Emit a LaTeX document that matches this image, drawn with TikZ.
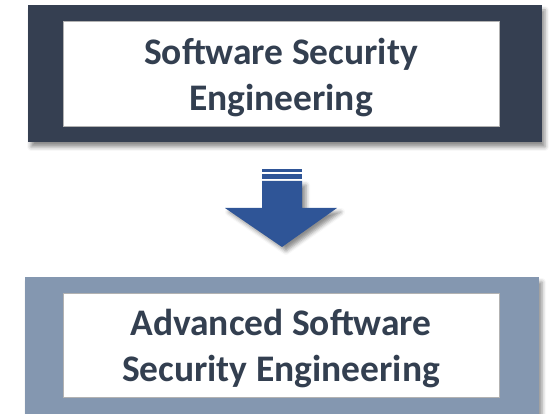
\documentclass[tikz,border=0pt]{standalone}
\usepackage{fontspec}
\setmainfont{Carlito}
\usetikzlibrary{shadows.blur}
\definecolor{framedark}{HTML}{353F51}
\definecolor{framelight}{HTML}{8497B0}
\definecolor{arrowblue}{HTML}{2F5597}
\definecolor{textdark}{HTML}{333F50}
\tikzset{
    frame/.style={minimum width=514pt, inner sep=0pt, draw=none,
        blur shadow={shadow xshift=3pt, shadow yshift=-5pt, shadow blur radius=4pt, shadow opacity=45}},
    label box/.style={fill=white, draw=gray!60, line width=0.4pt, minimum width=436pt,
        minimum height=105pt, inner sep=0pt, align=center, text=textdark,
        font=\fontsize{37.5}{46}\selectfont\bfseries}
}
\begin{document}
\begin{tikzpicture}[x=1pt, y=-1pt]
    \useasboundingbox (0,0) rectangle (550,414);
    \clip (0,0) rectangle (550,414);

    % top block
    \node[frame, fill=framedark, minimum height=137pt] (topframe) at (285,73.5) {};
    \node[label box] (toptext) at (281,73.5) {};
    \node[text=textdark, align=center, font=\fontsize{37.5}{46}\selectfont\bfseries] (toplabel) at (281,78) {Software Security\\Engineering};

    % arrow between the blocks
    \coordinate (arrowtop) at (282,181);
    \fill[arrowblue] (262,169) rectangle (302,172);
    \fill[arrowblue] (262,174) rectangle (302,179);
    \fill[arrowblue, blur shadow={shadow xshift=4pt, shadow yshift=-4pt, shadow blur radius=4pt, shadow opacity=45}]
        (arrowtop) ++(-20,0) -- ++(0,27) -- ++(-37,0) -- (282,247)
        -- (337,208) -- ++(-35,0) -- ++(0,-27) -- cycle;

    % bottom block
    \node[frame, fill=framelight, minimum height=150pt] (botframe) at (282,352) {};
    \node[label box, minimum height=104pt] (bottext) at (281,345) {};
    \node[text=textdark, align=center, font=\fontsize{37.5}{46}\selectfont\bfseries] (botlabel) at (281,349) {Advanced Software\\Security Engineering};
\end{tikzpicture}
\end{document}
